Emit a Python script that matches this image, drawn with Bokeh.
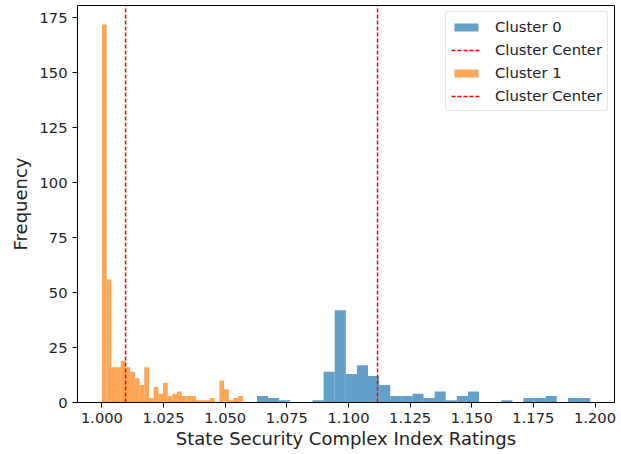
import numpy as np
from bokeh.plotting import figure
from bokeh.models import FixedTicker, NumeralTickFormatter, Legend, LegendItem, Range1d
from bokeh.embed import file_html
from bokeh.resources import INLINE

# ---- data ----
cluster0_counts = [3, 2, 1, 0, 0, 1, 14, 42, 13, 17, 12, 8, 3, 3, 4, 2, 5, 1, 3, 5,
                   0, 0, 1, 0, 2, 2, 3, 0, 2, 2]
cluster0_min = 1.0629
cluster0_max = 1.1980
cluster0_center = 1.1118

cluster1_counts = [172, 56, 16, 16, 19, 16, 14, 11, 8, 16, 2, 7, 4, 9, 3, 4, 5, 3, 3, 3,
                   1, 1, 1, 2, 0, 10, 6, 1, 2, 3]
cluster1_min = 1.0000
cluster1_max = 1.0572
cluster1_center = 1.0096

x_ticks = [1.000, 1.025, 1.050, 1.075, 1.100, 1.125, 1.150, 1.175, 1.200]
y_ticks = [0, 25, 50, 75, 100, 125, 150, 175]

FONT = "DejaVu Sans"

xmin = min(cluster0_min, cluster1_min)
xmax = max(cluster0_max, cluster1_max)
xpad = 0.05 * (xmax - xmin)
ymax = 1.05 * max(max(cluster0_counts), max(cluster1_counts))

p = figure(width=621, height=454, output_backend="svg", toolbar_location=None,
           x_range=Range1d(xmin - xpad, xmax + xpad), y_range=Range1d(0, ymax),
           min_border_left=77, min_border_right=7, min_border_top=5, min_border_bottom=52)
p.xgrid.visible = False
p.ygrid.visible = False
p.outline_line_color = "black"
p.outline_line_width = 1
p.background_fill_color = "white"
p.border_fill_color = "white"

def edges(lo, hi, n):
    e = np.linspace(lo, hi, n + 1)
    return e[:-1], e[1:]

l0, r0 = edges(cluster0_min, cluster0_max, len(cluster0_counts))
l1, r1 = edges(cluster1_min, cluster1_max, len(cluster1_counts))

h0 = p.quad(left=l0, right=r0, bottom=0, top=cluster0_counts,
            fill_color="#1f77b4", fill_alpha=0.7, line_color=None)
c0 = p.segment(x0=[cluster0_center], y0=[0], x1=[cluster0_center], y1=[ymax],
               line_color="#ff0000", line_dash="4 2", line_width=1.5)
h1 = p.quad(left=l1, right=r1, bottom=0, top=cluster1_counts,
            fill_color="#ff7f0e", fill_alpha=0.7, line_color=None)
c1 = p.segment(x0=[cluster1_center], y0=[0], x1=[cluster1_center], y1=[ymax],
               line_color="#ff0000", line_dash="4 2", line_width=1.5)

legend = Legend(items=[
    LegendItem(label="Cluster 0", renderers=[h0]),
    LegendItem(label="Cluster Center", renderers=[c0]),
    LegendItem(label="Cluster 1", renderers=[h1]),
    LegendItem(label="Cluster Center", renderers=[c1]),
], location="top_right")
legend.label_text_font = FONT
legend.label_text_font_size = "14.8px"
legend.label_text_color = "#222222"
legend.glyph_width = 30
legend.glyph_height = 10
legend.label_height = 19
legend.spacing = 4
legend.padding = 5
legend.margin = 6
legend.label_standoff = 14
legend.border_line_color = "#cccccc"
legend.border_line_width = 1
legend.background_fill_alpha = 0.8
legend.border_radius = 3
p.add_layout(legend, "center")

p.xaxis.ticker = FixedTicker(ticks=x_ticks)
p.xaxis.formatter = NumeralTickFormatter(format="0.000")
p.yaxis.ticker = FixedTicker(ticks=y_ticks)
p.xaxis.axis_label = "State Security Complex Index Ratings"
p.yaxis.axis_label = "Frequency"
for ax in (p.xaxis, p.yaxis):
    ax.axis_label_text_font = FONT
    ax.axis_label_text_font_size = "18px"
    ax.axis_label_text_font_style = "normal"
    ax.axis_label_text_color = "#222222"
    ax.major_label_text_font = FONT
    ax.major_label_text_font_size = "14.7px"
    ax.major_label_text_color = "#222222"
    ax.major_tick_out = 5
    ax.major_tick_in = 0
    ax.minor_tick_out = 0
    ax.minor_tick_in = 0
    ax.major_label_standoff = 5
    ax.axis_line_color = "black"
    ax.major_tick_line_color = "black"
p.xaxis.axis_label_standoff = 2
p.yaxis.axis_label_standoff = 5

open("out.html", "w").write(file_html(p, INLINE))
